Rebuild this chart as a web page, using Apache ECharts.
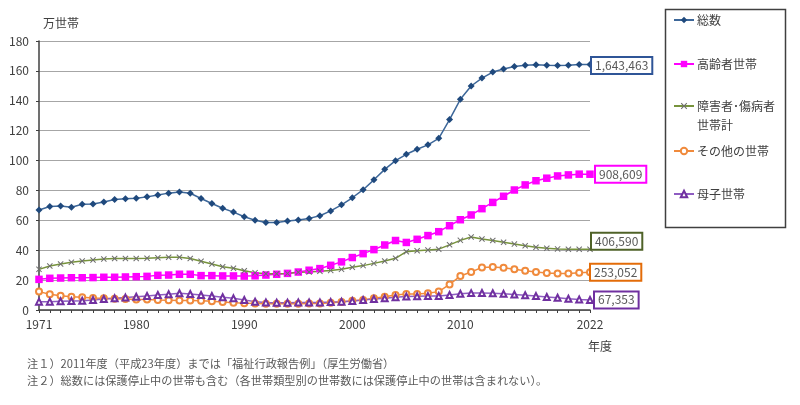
<!DOCTYPE html>
<html><head><meta charset="utf-8">
<script src="https://cdn.jsdelivr.net/npm/echarts@6/dist/echarts.min.js"></script>
<style>html,body{margin:0;padding:0;background:#fff}#c{width:800px;height:405px}</style>
</head><body><div id="c"></div>
<script>
const years = [];
for (let y = 1971; y <= 2022; y++) years.push(String(y));
const shownYears = ['1971','1980','1990','2000','2010','2022'];
const yTicks = [0,20,40,60,80,100,120,140,160,180];

const seriesNames = ['総数','高齢者世帯','障害者・傷病者世帯計','その他の世帯','母子世帯'];
const legendLabels = ['総数','高齢者世帯','障害者･傷病者','その他の世帯','母子世帯'];

const total = [66.9,69.2,69.6,68.8,70.7,70.9,72.3,73.9,74.5,74.7,
  75.7,77.0,78.2,78.9,78.1,74.6,71.3,68.1,65.5,62.4,
  60.1,58.6,58.6,59.5,60.2,61.3,63.1,66.3,70.4,75.1,
  80.5,87.1,94.1,99.9,104.2,107.6,110.5,114.9,127.4,141.0,
  149.9,155.2,159.2,161.2,163.0,163.7,164.1,163.8,163.6,163.7,
  164.2,164.3463];
const elderly = [20.5,21.2,21.4,21.6,21.6,21.7,21.9,21.9,22.1,22.3,
  22.5,23.2,23.4,23.9,23.9,23.0,23.0,22.8,22.8,22.7,
  22.9,23.4,23.9,24.5,25.4,26.6,27.7,29.9,32.2,35.1,
  37.7,40.4,43.5,46.5,45.2,47.3,49.8,52.4,56.4,60.4,
  63.6,67.8,72.0,76.1,80.3,83.7,86.5,88.2,89.7,90.4,
  90.9,90.8609];
const disabled = [27.2,29.4,30.8,31.9,32.8,33.5,34.1,34.4,34.4,34.4,
  34.6,35.0,35.3,35.3,34.4,32.6,30.8,29.0,27.9,26.3,
  25.0,24.3,24.3,24.5,25.2,25.4,25.9,26.5,27.2,28.6,
  29.7,31.2,32.8,34.6,39.0,39.7,40.1,40.7,43.6,46.6,
  48.9,47.5,46.5,45.3,44.1,43.0,42.0,41.3,40.9,40.7,
  40.6,40.659];
const other = [12.3,10.5,9.6,8.9,8.5,8.0,7.8,7.6,7.4,7.1,
  7.1,6.7,6.6,6.4,6.4,6.2,5.8,5.3,4.9,4.6,
  4.3,4.2,4.2,4.1,4.2,4.3,4.4,4.8,5.4,6.2,
  6.7,7.8,8.9,10.0,10.7,10.7,11.2,12.3,17.1,22.7,
  25.4,28.5,28.8,28.2,27.2,26.3,25.5,24.8,24.4,24.4,
  24.9,25.3052];
const single = [5.6,5.6,5.8,6.0,6.2,6.7,7.4,7.8,8.3,8.9,
  9.4,10.0,10.5,11.2,10.7,10.0,9.4,8.5,7.8,6.7,
  5.6,5.1,4.9,4.9,5.1,5.0,5.1,5.3,5.6,6.0,
  6.7,7.3,7.8,8.5,9.0,9.2,9.3,9.4,10.0,10.9,
  11.3,11.4,11.2,10.8,10.4,9.9,9.3,8.7,8.2,7.5,
  7.1,6.7353];
const notes = ['注１）2011年度（平成23年度）までは「福祉行政報告例」（厚生労働省）',
  '注２）総数には保護停止中の世帯も含む（各世帯類型別の世帯数には保護停止中の世帯は含まれない）。'];

const FONT = '"Noto Sans CJK JP", "Noto Sans", sans-serif';
const TXT = '#404040';
const xMark = 'path://M0,1.2L1.2,0L5,3.8L8.8,0L10,1.2L6.2,5L10,8.8L8.8,10L5,6.2L1.2,10L0,8.8L3.8,5Z';

const styles = [
  {line:'#3D6799', mark:'#1F497D', box:'#2F5597', symbol:'diamond', size:7, dist:2, off:[0,1]},
  {line:'#FF00FF', mark:'#FF00FF', box:'#FF00FF', symbol:'rect', size:7.5, dist:6, off:[0,0]},
  {line:'#77933C', mark:'#6F6F6F', box:'#4F6228', symbol:xMark, size:6, dist:2, off:[0,-8]},
  {line:'#F08A3C', mark:'#F08A3C', box:'#E36C09', symbol:'emptyCircle', size:6, dist:1, off:[0,0]},
  {line:'#8E5CC2', mark:'#7030A0', box:'#7030A0', symbol:'emptyTriangle', size:6, dist:5, off:[0,0]}
];
const dataSets = [total, elderly, disabled, other, single];
const fmt = v => Math.round(v * 10000).toLocaleString('en-US');

const series = seriesNames.map((n, i) => ({
  name: n, type: 'line', data: dataSets[i],
  symbol: styles[i].symbol, symbolSize: styles[i].size, showAllSymbol: true,
  lineStyle: {color: styles[i].line, width: 1.5},
  itemStyle: {color: styles[i].mark, borderColor: styles[i].mark, borderWidth: (styles[i].symbol.indexOf('empty') === 0 ? 1.2 : 0)},
  emphasis: {disabled: true},
  animation: false,
  endLabel: {
    show: true, formatter: p => fmt(p.value), fontFamily: FONT, fontSize: 12, color: '#595959',
    borderColor: styles[i].box, borderWidth: 2, backgroundColor: '#fff',
    padding: [2, 3, 1, 3], distance: styles[i].dist, offset: styles[i].off
  }
}));

const legendCenters = [23, 67, 109, 154, 197];
const legends = seriesNames.map((n, i) => ({
  data: [n], left: 673, top: legendCenters[i] - 9, orient: 'vertical', padding: 0,
  itemWidth: 20, itemHeight: 8, itemGap: 0, selectedMode: false,
  formatter: () => legendLabels[i],
  textStyle: {fontFamily: FONT, fontSize: 12, color: TXT, padding: [0,0,0,-2]}
}));

const chart = echarts.init(document.getElementById('c'), null, {renderer: 'canvas'});
chart.setOption({
  animation: false,
  textStyle: {fontFamily: FONT},
  grid: {left: 39, right: 210, top: 41, bottom: 95, containLabel: false},
  legend: legends,
  xAxis: {
    type: 'category', data: years, boundaryGap: false,
    axisLine: {lineStyle: {color: '#404040', width: 1.5}},
    axisTick: {show: true, interval: 0, length: 3, lineStyle: {color: '#404040'}},
    axisLabel: {interval: (idx, val) => shownYears.indexOf(val) >= 0, color: TXT, fontFamily: FONT, fontSize: 12, margin: 8, showMinLabel: true, showMaxLabel: true},
    splitLine: {show: false}
  },
  yAxis: {
    type: 'value', min: yTicks[0], max: yTicks[yTicks.length - 1], interval: 20,
    name: '万世帯', nameLocation: 'end', nameGap: 12,
    nameTextStyle: {color: TXT, fontFamily: FONT, fontSize: 12, align: 'left', padding: [0, 0, 0, 4]},
    axisLine: {show: true, lineStyle: {color: '#404040', width: 1.5}},
    axisTick: {show: true, length: 3, lineStyle: {color: '#404040'}},
    axisLabel: {color: TXT, fontFamily: FONT, fontSize: 12, margin: 10},
    splitLine: {lineStyle: {color: '#A6A6A6', width: 1.2}}
  },
  series: series,
  graphic: [
    {type: 'rect', left: 663, top: 7, shape: {width: 120, height: 218}, style: {fill: 'none', stroke: '#404040', lineWidth: 1.5}, z: -1},
    {type: 'text', left: 697, top: 119, style: {text: '世帯計', font: '12px ' + FONT, fill: TXT}},
    {type: 'text', left: 588, top: 340, style: {text: '年度', font: '12px ' + FONT, fill: TXT}},
    {type: 'text', left: 27, top: 358, style: {text: notes[0], font: '11.2px ' + FONT, fill: '#595959'}},
    {type: 'text', left: 27, top: 375, style: {text: notes[1], font: '11.2px ' + FONT, fill: '#595959'}}
  ]
});
</script></body></html>
